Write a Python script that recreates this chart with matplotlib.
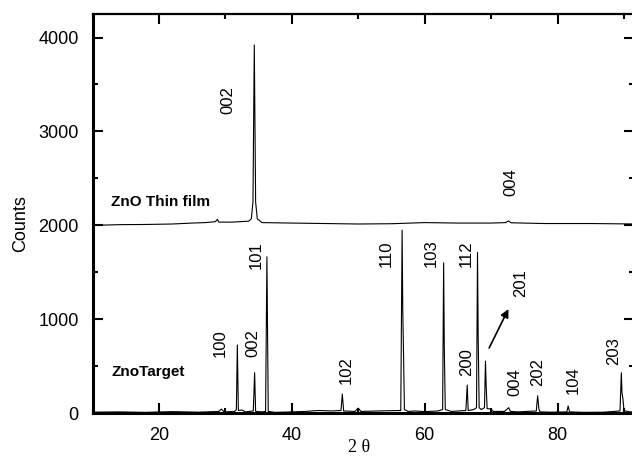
import matplotlib
matplotlib.use("Agg")
import matplotlib.pyplot as plt
from matplotlib.ticker import MultipleLocator

plt.rcParams['font.family'] = ['Liberation Sans', 'DejaVu Sans']

# ZnO target pattern (2 theta, counts)
target_2theta = [10, 14, 18, 22, 26, 29.0, 29.4, 29.8, 31.4, 31.65, 31.8, 31.95,
                 32.5, 33.0, 34.2, 34.4, 34.55, 35.5, 36.05, 36.25, 36.45, 37.5,
                 40, 42, 44, 46, 47.4, 47.6, 47.8, 49.5, 50.0, 50.4, 53, 56.4,
                 56.6, 56.7, 56.8, 56.95, 57.5, 58.5, 60, 62.0, 62.7, 62.85,
                 62.95, 63.1, 64, 66.2, 66.4, 66.55, 67.4, 67.8, 67.95, 68.05,
                 68.2, 68.5, 69.0, 69.15, 69.25, 69.4, 70.0, 70.3, 72.0, 72.65,
                 72.9, 74, 76.8, 77.0, 77.2, 77.4, 79, 81.4, 81.6, 81.8, 84, 87,
                 89.4, 89.6, 89.7, 89.85, 90.0, 90.5, 91, 92]
target_counts = [12, 15, 10, 18, 12, 20, 45, 15, 20, 40, 727, 30,
                 35, 15, 25, 432, 20, 15, 20, 1666, 20, 10,
                 15, 20, 30, 25, 30, 205, 25, 20, 55, 20, 25, 30,
                 1950, 1100, 700, 40, 20, 25, 18, 25, 40, 1602,
                 700, 40, 20, 30, 301, 30, 40, 60, 1713, 830,
                 60, 40, 60, 556, 300, 50, 45, 20, 20, 60,
                 20, 15, 25, 187, 40, 15, 12, 15, 78, 15, 10, 12,
                 25, 432, 216, 150, 30, 20, 15, 15]

# ZnO thin film pattern
film_2theta = [10, 14, 18, 22, 25, 27, 28.5, 28.8, 29.0, 31, 33.5, 33.9, 34.15,
               34.35, 34.55, 34.8, 35.5, 40, 45, 50, 55, 60, 65, 70, 72.2,
               72.6, 73.0, 78, 85, 92]
film_counts = [2000, 2008, 2010, 2015, 2025, 2030, 2040, 2065, 2035, 2035, 2045,
               2070, 2250, 3920, 2250, 2070, 2030, 2025, 2020, 2015, 2018, 2030,
               2025, 2025, 2030, 2048, 2028, 2020, 2020, 2015]

# hkl labels
film_labels = ['002', '004']
target_labels = ['100', '002', '101', '102', '110', '103', '200', '112',
                 '201', '004', '202', '104', '203']

film_label_pos = [(30.4, 3333), (73.0, 2464)]
target_label_pos = [(29.3, 745), (34.2, 745), (34.7, 1684), (48.25, 460),
                    (54.2, 1702), (61.0, 1702), (66.3, 549), (66.2, 1702),
                    (74.4, 1383), (73.5, 336), (77.0, 443), (82.3, 354),
                    (88.5, 666)]

fig = plt.figure(figsize=(6.32, 4.57), dpi=100)
ax = fig.add_axes([0.1464, 0.0956, 0.8567, 0.8737])

ax.plot(film_2theta, film_counts, color='black', lw=0.8)
ax.plot(target_2theta, target_counts, color='black', lw=0.8)

for lab, (x, y) in zip(film_labels, film_label_pos):
    ax.text(x, y, lab, rotation=90, ha='center', va='center', fontsize=12)
for lab, (x, y) in zip(target_labels, target_label_pos):
    ax.text(x, y, lab, rotation=90, ha='center', va='center', fontsize=12)

ax.text(12.8, 2248, 'ZnO Thin film', fontsize=11, fontweight='bold',
        ha='left', va='center')
ax.text(12.8, 443, 'ZnoTarget', fontsize=11, fontweight='bold',
        ha='left', va='center')

ax.annotate('', xy=(72.6, 1110), xytext=(69.7, 695),
            arrowprops=dict(arrowstyle='-|>', color='black', lw=1.2,
                            mutation_scale=12, shrinkA=0, shrinkB=0))

ax.set_xlim(10, 91.5)
ax.set_ylim(0, 4250)
ax.xaxis.set_major_locator(MultipleLocator(20))
ax.xaxis.set_minor_locator(MultipleLocator(10))
ax.yaxis.set_major_locator(MultipleLocator(1000))
ax.yaxis.set_minor_locator(MultipleLocator(500))

ax.tick_params(which='both', direction='in', top=True, right=True,
               labelsize=13, pad=10)
ax.tick_params(which='major', length=7, width=1.5)
ax.tick_params(which='minor', length=3.5, width=1.5)

ax.spines['left'].set_linewidth(2.2)
ax.spines['bottom'].set_linewidth(2.2)
ax.spines['top'].set_linewidth(1.6)
ax.spines['right'].set_linewidth(1.6)

fig.text(0.033, 0.51, 'Counts', rotation=90, ha='center', va='center',
         fontsize=13)
fig.text(0.568, 0.02, '2 \u03b8', ha='center', va='center', fontsize=13,
         family=['Liberation Serif', 'DejaVu Serif'])

fig.savefig('out.png', dpi=100)
